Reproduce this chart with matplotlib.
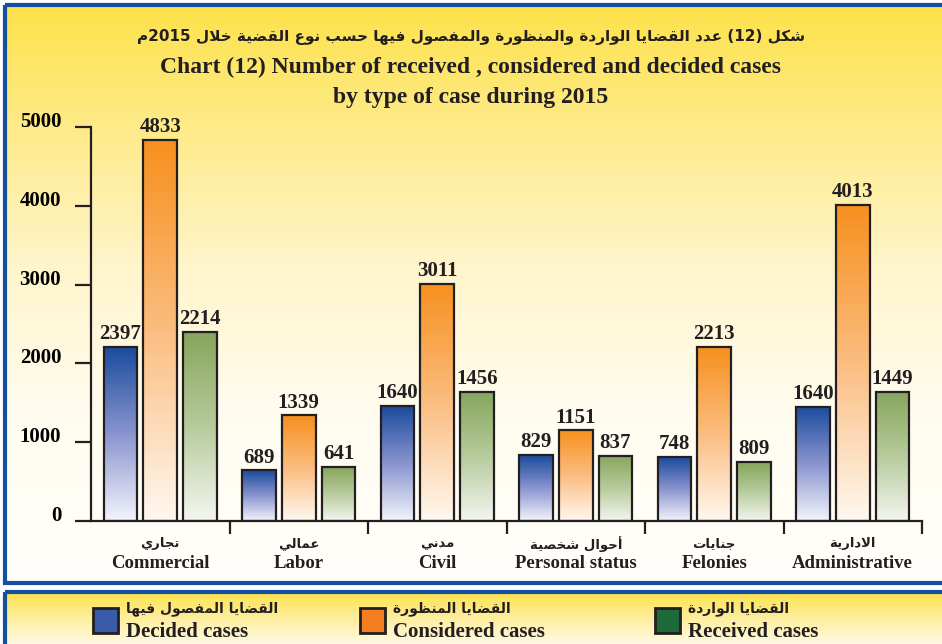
import numpy as np
import matplotlib.pyplot as plt
from matplotlib.colors import LinearSegmentedColormap
from matplotlib.patches import Rectangle

# ---------------- data ----------------
cats_en = ["Commercial", "Labor", "Civil", "Personal status", "Felonies", "Administrative"]
cats_ar = ["تجاري", "عمالي", "مدني", "أحوال شخصية", "جنايات", "الادارية"]

# bar heights as drawn
decided = [2214, 641, 1456, 837, 809, 1449]
considered = [4833, 1339, 3011, 1151, 2213, 4013]
received = [2397, 689, 1640, 829, 748, 1640]

# numbers printed above the bars (as in the source chart)
decided_txt = ["2397", "689", "1640", "829", "748", "1640"]
considered_txt = ["4833", "1339", "3011", "1151", "2213", "4013"]
received_txt = ["2214", "641", "1456", "837", "809", "1449"]

yticks = [0, 1000, 2000, 3000, 4000, 5000]

title_ar = "شكل (12) عدد القضايا الواردة والمنظورة والمفصول فيها حسب نوع القضية خلال 2015م"
title_en1 = "Chart (12) Number of received , considered and decided cases"
title_en2 = "by type of case during 2015"
leg_ar = ["القضايا المفصول فيها", "القضايا المنظورة", "القضايا الواردة"]
leg_en = ["Decided cases", "Considered cases", "Received cases"]

# ---------------- arabic shaping (no raqm in matplotlib) ----------------
FORMS = {
    'ا': ('\uFE8D', '\uFE8E', None, None),
    'أ': ('\uFE83', '\uFE84', None, None),
    'ب': ('\uFE8F', '\uFE90', '\uFE91', '\uFE92'),
    'ة': ('\uFE93', '\uFE94', None, None),
    'ت': ('\uFE95', '\uFE96', '\uFE97', '\uFE98'),
    'ج': ('\uFE9D', '\uFE9E', '\uFE9F', '\uFEA0'),
    'ح': ('\uFEA1', '\uFEA2', '\uFEA3', '\uFEA4'),
    'خ': ('\uFEA5', '\uFEA6', '\uFEA7', '\uFEA8'),
    'د': ('\uFEA9', '\uFEAA', None, None),
    'ر': ('\uFEAD', '\uFEAE', None, None),
    'س': ('\uFEB1', '\uFEB2', '\uFEB3', '\uFEB4'),
    'ش': ('\uFEB5', '\uFEB6', '\uFEB7', '\uFEB8'),
    'ص': ('\uFEB9', '\uFEBA', '\uFEBB', '\uFEBC'),
    'ض': ('\uFEBD', '\uFEBE', '\uFEBF', '\uFEC0'),
    'ظ': ('\uFEC5', '\uFEC6', '\uFEC7', '\uFEC8'),
    'ع': ('\uFEC9', '\uFECA', '\uFECB', '\uFECC'),
    'ف': ('\uFED1', '\uFED2', '\uFED3', '\uFED4'),
    'ق': ('\uFED5', '\uFED6', '\uFED7', '\uFED8'),
    'ك': ('\uFED9', '\uFEDA', '\uFEDB', '\uFEDC'),
    'ل': ('\uFEDD', '\uFEDE', '\uFEDF', '\uFEE0'),
    'م': ('\uFEE1', '\uFEE2', '\uFEE3', '\uFEE4'),
    'ن': ('\uFEE5', '\uFEE6', '\uFEE7', '\uFEE8'),
    'ه': ('\uFEE9', '\uFEEA', '\uFEEB', '\uFEEC'),
    'و': ('\uFEED', '\uFEEE', None, None),
    'ي': ('\uFEF1', '\uFEF2', '\uFEF3', '\uFEF4'),
}
LAM_ALEF = {'ا': ('\uFEFB', '\uFEFC'), 'أ': ('\uFEF7', '\uFEF8')}


def dual(c):
    return c in FORMS and FORMS[c][2] is not None


def ar(txt):
    out = []
    n = len(txt)
    i = 0
    while i < n:
        c = txt[i]
        if c not in FORMS:
            out.append(c)
            i += 1
            continue
        jp = i > 0 and dual(txt[i - 1])
        if c == 'ل' and i + 1 < n and txt[i + 1] in LAM_ALEF:
            out.append(LAM_ALEF[txt[i + 1]][1 if jp else 0])
            i += 2
            continue
        jn = dual(c) and i + 1 < n and txt[i + 1] in FORMS
        iso, fin, ini, med = FORMS[c]
        out.append(med if (jp and jn) else fin if jp else ini if jn else iso)
        i += 1
    units = []
    for ch in out:
        if ch.isdigit() and units and units[-1].isdigit():
            units[-1] += ch
        else:
            units.append(ch)
    mirror = {'(': ')', ')': '('}
    return ''.join(mirror.get(u, u) for u in reversed(units))


# ---------------- figure ----------------
W, H = 942, 644
fig = plt.figure(figsize=(W / 100, H / 100), dpi=100)

bg = fig.add_axes([0, 0, 1, 1])
bg.axis("off")

panel_cm = LinearSegmentedColormap.from_list(
    "panel", [(0, "#fde24a"), (0.2, "#feea86"), (0.45, "#fff5cb"), (0.7, "#fffcef"), (1, "#fffffb")])
grad = np.linspace(0, 1, 256).reshape(-1, 1)
bg.imshow(grad, cmap=panel_cm, extent=(5, W, 585, 5), aspect="auto", zorder=0)
leg_cm = LinearSegmentedColormap.from_list("leg", ["#fde24a", "#feee9e", "#fffae2"])
bg.imshow(grad, cmap=leg_cm, extent=(5, W, H, 592), aspect="auto", zorder=0)
bg.set_xlim(0, W)
bg.set_ylim(H, 0)
bg.add_patch(Rectangle((5, 5), W + 60, 578, fill=False, ec="#1450a0", lw=3, zorder=1))
bg.add_patch(Rectangle((5, 592), W + 60, 90, fill=False, ec="#1450a0", lw=3, zorder=1))

serif = "Liberation Serif"
bg.text(471, 37, ar(title_ar), ha="center", va="center", fontsize=11,
        family=["DejaVu Sans"], weight="bold", color="#231f20")
bg.text(471, 67, title_en1, ha="center", va="center", fontsize=17,
        family=serif, weight="bold", color="#231f20")
bg.text(471, 97, title_en2, ha="center", va="center", fontsize=17,
        family=serif, weight="bold", color="#231f20")

# legend
leg_face = ["#3a5ca8", "#f47f20", "#1d6b3b"]
leg_x = [93, 360, 655]
for k in range(3):
    bg.add_patch(Rectangle((leg_x[k], 608), 25, 25, fc=leg_face[k], ec="#231f20", lw=2, zorder=2))
    bg.text(leg_x[k] + 33, 609, ar(leg_ar[k]), ha="left", va="center", fontsize=10,
            family=["DejaVu Sans"], weight="bold", color="#231f20")
    bg.text(leg_x[k] + 33, 632, leg_en[k], ha="left", va="center", fontsize=15,
            family=serif, weight="bold", color="#231f20")

# ---------------- main axes ----------------
ax = fig.add_axes([91 / W, (H - 521) / H, (922 - 91) / W, (521 - 127) / H])
ax.patch.set_alpha(0)

x = np.arange(len(cats_en))
bw = 0.245
off = 0.287
series = [
    (decided, decided_txt, ["#f3f4fb", "#8a94cf", "#1a4b9c"], -off),
    (considered, considered_txt, ["#fff8f0", "#fbbd80", "#f7901e"], 0),
    (received, received_txt, ["#f4f6f0", "#b7cb9c", "#86a65c"], off),
]
for vals, txts, cols, dx in series:
    cm = LinearSegmentedColormap.from_list("g", cols)
    bars = ax.bar(x + dx, vals, width=bw, facecolor="none", edgecolor="#231f20",
                  linewidth=1.6, zorder=3)
    for b, t in zip(bars, txts):
        x0, w, h = b.get_x(), b.get_width(), b.get_height()
        ax.imshow(grad, cmap=cm, origin="lower", extent=(x0, x0 + w, 0, h),
                  aspect="auto", zorder=2)
        ax.annotate(t, (x0 + w / 2, h), xytext=(0, 2), textcoords="offset points",
                    ha="center", va="bottom", fontsize=15, family=serif,
                    weight="bold", color="#231f20", annotation_clip=False)

ax.set_xlim(-0.5, len(cats_en) - 0.5)
ax.set_ylim(0, 5000)
for s in ["top", "right"]:
    ax.spines[s].set_visible(False)
for s in ["left", "bottom"]:
    ax.spines[s].set_linewidth(1.6)
    ax.spines[s].set_color("#231f20")

ax.set_yticks(yticks)
ax.set_yticklabels([str(v) for v in yticks])
ax.tick_params(axis="y", length=11.5, width=1.6, pad=10, color="#231f20")
for lbl in ax.get_yticklabels():
    lbl.set_fontfamily(serif)
    lbl.set_fontweight("bold")
    lbl.set_fontsize(15)
    lbl.set_va("baseline")

ax.set_xticks(x + 0.5)
ax.set_xticklabels([])
ax.tick_params(axis="x", length=9, width=1.6, color="#231f20")

for i in range(len(cats_en)):
    ax.annotate(ar(cats_ar[i]), (x[i], 0), xytext=(0, -16.5), textcoords="offset points",
                ha="center", va="center", fontsize=9.5, family=["DejaVu Sans"],
                weight="bold", color="#231f20", annotation_clip=False)
    ax.annotate(cats_en[i], (x[i], 0), xytext=(0, -30.5), textcoords="offset points",
                ha="center", va="center", fontsize=13.5, family=serif,
                weight="bold", color="#231f20", annotation_clip=False)

fig.savefig("out.png", dpi=100)
